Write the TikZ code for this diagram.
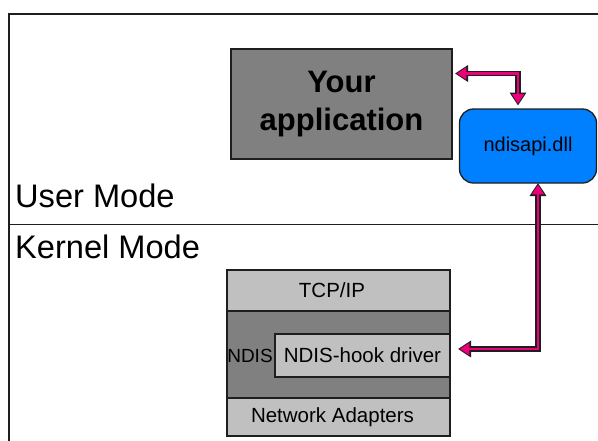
\documentclass[tikz,border=0pt]{standalone}
\usepackage{fontspec}
\setmainfont{Liberation Sans}
\usetikzlibrary{arrows.meta}
\definecolor{boxgray}{RGB}{128,128,128}
\definecolor{lightgray}{RGB}{192,192,192}
\definecolor{dllblue}{RGB}{0,128,255}
\definecolor{pinkc}{RGB}{238,0,122}
\definecolor{edge}{RGB}{30,30,30}
\tikzset{
  box/.style={draw=edge, line width=1.3pt, inner sep=0pt, outer sep=0pt, anchor=center},
  darkbox/.style={box, fill=boxgray},
  lightbox/.style={box, fill=lightgray},
  lab/.style={font=\fontsize{20.5pt}{24pt}\selectfont, text=black, inner sep=0pt},
  modelab/.style={font=\fontsize{32.6pt}{39pt}\selectfont, inner sep=0pt, anchor=base west},
  arrowout/.style={line width=5.5pt, draw=edge, line join=miter,
    {Triangle[length=13pt,width=16pt]}-{Triangle[length=13pt,width=16pt]}},
  arrowin/.style={line width=2.8pt, draw=pinkc, line join=miter,
    {Triangle[length=9.5pt,width=11.5pt]}-{Triangle[length=9.5pt,width=11.5pt]},
    shorten >=1.8pt, shorten <=1.8pt},
}
\begin{document}
\begin{tikzpicture}[x=1pt,y=-1pt]
\path[use as bounding box, fill=white] (0,0) rectangle (598,440);

% frame
\draw[line width=2.2pt, edge] (9,441) -- (9,14) -- (599,14);
\draw[line width=1pt, edge] (9,224) -- (599,224);

\node[modelab] (user) at (15,207) {User Mode};
\node[modelab] (kernel) at (15,258) {Kernel Mode};

% application
\node[darkbox, minimum width=221pt, minimum height=110pt,
      font=\bfseries\fontsize{31pt}{38pt}\selectfont, align=center] (app) at (341.5,104)
      {Your\\application};

% dll
\node[box, fill=dllblue, rounded corners=14pt, minimum width=137pt, minimum height=74pt,
      font=\fontsize{20pt}{24pt}\selectfont] (dll) at (528,146) {ndisapi.dll};

% driver stack
\node[lightbox, minimum width=223pt, minimum height=41pt,
      label={[lab, xshift=-6.5pt]center:TCP/IP}] (tcp) at (338.5,290.5) {};
\node[darkbox, minimum width=223pt, minimum height=87pt] (ndis) at (338.5,354.5) {};
\node[lightbox, minimum width=175pt, minimum height=43pt, lab] (hook) at (362.5,355.5) {NDIS-hook driver};
\node[lab, font=\fontsize{19pt}{22pt}\selectfont] (ndislab) at (250,356) {NDIS};
\node[lightbox, minimum width=223pt, minimum height=38pt,
      label={[lab, xshift=-6pt]center:Network Adapters}] (adapt) at (338.5,417) {};

% arrows
\coordinate (t1) at ([xshift=3pt]app.east |- 0,73.5);
\coordinate (t2) at ([yshift=3.5pt]dll.north -| 518,0);
\coordinate (t3) at (dll.south -| 538,0);
\coordinate (t4) at ([xshift=8pt]hook.east |- 0,349);
\draw[arrowout] (t1) -| (t2);
\draw[arrowin] (t1) -| (t2);
\draw[arrowout] (t3) |- (t4);
\draw[arrowin] (t3) |- (t4);
\end{tikzpicture}
\end{document}
